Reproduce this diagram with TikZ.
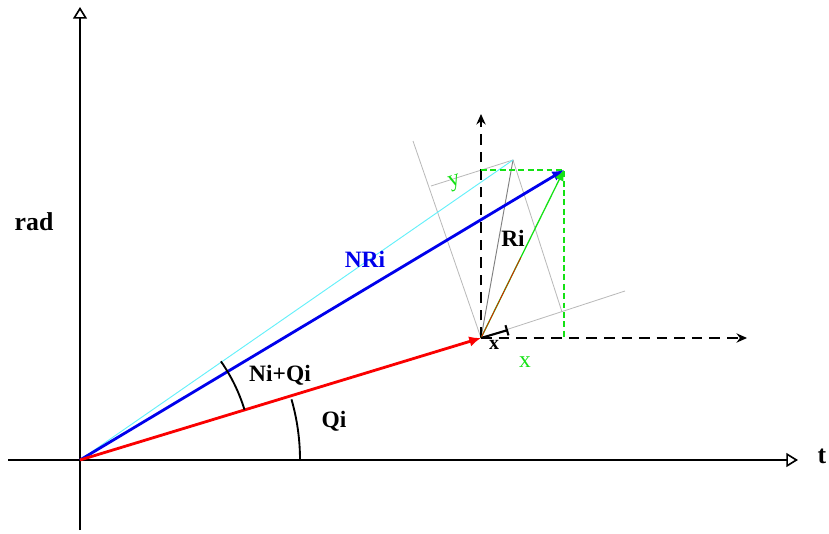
\documentclass[tikz,border=0pt]{standalone}
\usepackage{fontspec}
\setmainfont{Liberation Serif}
\usetikzlibrary{arrows.meta, positioning, calc}
\usepackage{xcolor}
\definecolor{vecred}{RGB}{250,0,0}
\definecolor{vecblue}{RGB}{0,0,235}
\definecolor{veccyan}{RGB}{100,240,250}
\definecolor{vecgreen}{RGB}{20,225,20}
\tikzset{
  axis/.style={line width=1.7pt, -{Triangle[open, length=10pt, width=12pt, line width=1.4pt]}},
  dashaxis/.style={line width=1.1pt, dash pattern=on 9pt off 6pt, -{Stealth[length=9pt, width=8pt]}},
  vector/.style={line width=2.4pt, -{Latex[length=10pt, width=9pt]}},
  framegray/.style={gray!55, line width=0.7pt},
  greendash/.style={vecgreen, line width=1pt, dash pattern=on 5pt off 3pt},
  lbl/.style={font=\fontsize{20}{22}\selectfont\bfseries, inner sep=1pt}
}

\begin{document}
\begin{tikzpicture}[x=0.03cm, y=-0.03cm]
  \useasboundingbox (0,0) rectangle (829,534);

  % axes
  \coordinate (ybot) at (80,530);
  \coordinate (ytop) at (80,7);
  \coordinate (xleft) at (8,460);
  \coordinate (xright) at (798,460);
  \draw[axis] (ybot) -- (ytop);
  \draw[axis] (xleft) -- (xright);
  \node[lbl, font=\fontsize{22}{24}\selectfont\bfseries] (rad) at (34,222) {rad};
  \node[lbl, font=\fontsize{22}{24}\selectfont\bfseries] (t) at (822,456) {t};

  % points
  \coordinate (O) at (80,460);
  \coordinate (P) at (481,338);
  \coordinate (B) at (564,170);
  \coordinate (C) at (513,160);
  \coordinate (U) at (562,312);
  \coordinate (V) at (431,186);
  \coordinate (Vtop) at (413,141);
  \coordinate (Uend) at (625,291);
  \coordinate (Xend) at (508,330);

  % rotated frame
  \draw[framegray] (P) -- (Uend);
  \draw[framegray] (P) -- (Vtop);
  \draw[framegray] (V) -- (C) -- (U);
  \draw[gray, line width=0.8pt] (P) -- (C);
  \draw[veccyan, line width=0.8pt] (O) -- (C);

  % dashed axes at the end of Qi
  \coordinate (ptop) at (481,114);
  \coordinate (pright) at (747,338);
  \draw[dashaxis] (P) -- (ptop);
  \draw[dashaxis] (P) -- (pright);

  % green components
  \coordinate (Btop) at (481,170);
  \coordinate (Bbot) at (564,338);
  \draw[greendash] (Btop) -- (B) -- (Bbot);

  % vectors
  \draw[vector, vecblue] (O) -- (B);
  \draw[vector, vecred] (O) -- (P);
  \draw[vecgreen, line width=1.1pt, -{Latex[length=9pt, width=8pt]}] (P) -- (B);
  \draw[vecred, line width=0.6pt] (P) -- ($(P)!0.48!(B)$);
  \draw[line width=1.8pt, -{Bar[width=9pt]}] (P) -- (Xend);

  % angles
  \draw[line width=1.6pt] (O) ++(0:6.6cm) arc[start angle=0, end angle=16, radius=6.6cm];
  \draw[line width=1.6pt] (O) ++(17:5.16cm) arc[start angle=17, end angle=35, radius=5.16cm];

  % labels
  \node[lbl, vecblue] (nri) at (365,259) {NRi};
  \node[lbl] (niqi) at (280,375) {Ni+Qi};
  \node[lbl] (qi) at (334,421) {Qi};
  \node[lbl] (ri) at (513,238) {Ri};
  \node[lbl, vecgreen, font=\fontsize{20}{22}\selectfont, rotate=17] (ylbl) at (455,183) {y};
  \node[lbl, vecgreen, font=\fontsize{20}{22}\selectfont] (xlbl) at (525,362) {x};
  \node[font=\fontsize{17}{19}\selectfont\bfseries] (xmark) at (494,345) {x};
\end{tikzpicture}
\end{document}
